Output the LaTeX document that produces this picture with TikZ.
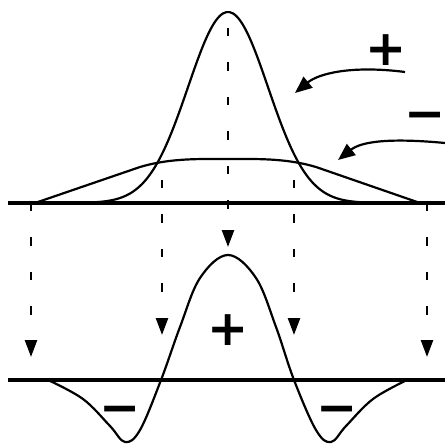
\documentclass[tikz,border=0pt]{standalone}
\usepackage{fontspec}
\newfontfamily\sgnfont{DejaVu Sans}
\usetikzlibrary{arrows.meta}
\tikzset{
  ax/.style={line width=2.3pt},
  crv/.style={line width=1.25pt},
  dsh/.style={line width=1.4pt,dash pattern=on 0.17cm off 0.52cm,-{Triangle[length=3.4mm,width=2.4mm]}},
  ptr/.style={line width=1.25pt,-{Triangle[length=3.4mm,width=2.8mm]}},
  sgn/.style={inner sep=0pt,font=\sgnfont\bfseries\fontsize{28}{28}\selectfont},
}

\begin{document}
\begin{tikzpicture}[x=0.02cm,y=-0.02cm]
  \useasboundingbox (0,0) rectangle (445,445);
  % axes
  \coordinate (tl) at (8,203);
  \coordinate (tr) at (445,203);
  \coordinate (bl) at (8,380);
  \coordinate (br) at (445,380);
  \draw[ax] (tl) -- (tr);
  \draw[ax,line width=1.9pt] (bl) -- (br);
  % narrow and broad curves
  \draw[crv] plot[domain=35:421,samples=120,smooth]
    (\x,{203-191*exp(-0.5*((\x-228)/40)*((\x-228)/40))});
  \draw[crv] (35,203) -- (140,167) .. controls (170,158) and (200,159) .. (228,159)
    .. controls (256,159) and (286,158) .. (316,167) -- (420,203);
  % lower curve
  \draw[crv] plot[smooth,tension=0.6] coordinates {(48,380) (83,399) (110,426) (125,442)
    (140,430) (161,380) (180,327) (200,278) (228,255) (256,278) (276,327) (294,380)
    (316,430) (331,442) (346,426) (373,399) (407,380)};
  % projections
  \coordinate (a0) at (31,203);  \coordinate (a1) at (31,357);
  \coordinate (b0) at (162,180); \coordinate (b1) at (162,335);
  \coordinate (c0) at (228,28);  \coordinate (c1) at (228,247);
  \coordinate (d0) at (294,180); \coordinate (d1) at (294,335);
  \coordinate (e0) at (427,203); \coordinate (e1) at (427,357);
  \foreach \p in {a,b,c,d,e}
    \draw[dsh] (\p0) -- (\p1);
  % signs
  \node[sgn] (pls) at (386,50) {+};
  \node[sgn] (mns) at (425,121) {−};
  \node[sgn] (cpls) at (228,330) {+};
  \node[sgn] (lmns) at (120,415) {−};
  \node[sgn] (rmns) at (337,415) {−};
  \coordinate (pt) at (405,72);
  \coordinate (ph) at (295,93);
  \coordinate (mt) at (445,143);
  \coordinate (mh) at (338,160);
  \draw[ptr] (pt) .. controls (350,65) and (318,74) .. (ph);
  \draw[ptr] (mt) .. controls (392,138) and (362,141) .. (mh);
\end{tikzpicture}
\end{document}
